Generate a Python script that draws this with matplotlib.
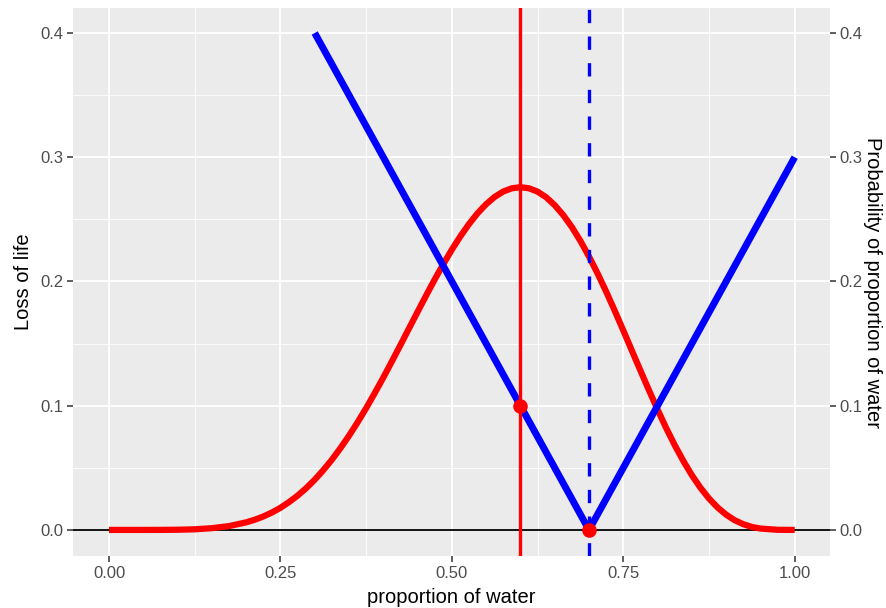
import matplotlib.pyplot as plt
from matplotlib.ticker import MultipleLocator

# probability of each proportion of water
p_grid = [0.0, 0.025, 0.05, 0.075, 0.1, 0.125, 0.15, 0.175,
          0.2, 0.2125, 0.225, 0.2375, 0.25, 0.2625, 0.275, 0.2875,
          0.3, 0.3125, 0.325, 0.3375, 0.35, 0.3625, 0.375, 0.3875,
          0.4, 0.4125, 0.425, 0.4375, 0.45, 0.4625, 0.475, 0.4875,
          0.5, 0.5125, 0.525, 0.5375, 0.55, 0.5625, 0.575, 0.5875,
          0.6, 0.6125, 0.625, 0.6375, 0.65, 0.6625, 0.675, 0.6875,
          0.7, 0.7125, 0.725, 0.7375, 0.75, 0.7625, 0.775, 0.7875,
          0.8, 0.8125, 0.825, 0.8375, 0.85, 0.8625, 0.875, 0.8875,
          0.9, 0.9125, 0.925, 0.9375, 0.95, 0.975, 1.0]
prob = [0.0, 0.0, 0.0, 0.00003, 0.00015, 0.0005, 0.0014, 0.0031,
        0.0061, 0.0082, 0.0108, 0.0140, 0.0178, 0.0224, 0.0276, 0.0336,
        0.0404, 0.0481, 0.0565, 0.0658, 0.0758, 0.0866, 0.0980, 0.1101,
        0.1226, 0.1356, 0.1488, 0.1622, 0.1755, 0.1887, 0.2016, 0.2139,
        0.2256, 0.2364, 0.2462, 0.2549, 0.2622, 0.2681, 0.2724, 0.2750,
        0.2759, 0.2750, 0.2723, 0.2678, 0.2614, 0.2534, 0.2438, 0.2326,
        0.2201, 0.2065, 0.1919, 0.1765, 0.1606, 0.1444, 0.1283, 0.1124,
        0.0969, 0.0821, 0.0683, 0.0556, 0.0441, 0.0340, 0.0253, 0.0181,
        0.0123, 0.0078, 0.0046, 0.0024, 0.0011, 0.0001, 0.0]

# loss function
loss_x = [0.3, 0.7, 1.0]
loss_y = [0.4, 0.0, 0.3]

mode_x = 0.6
true_x = 0.7
pts_x = [0.6, 0.7]
pts_y = [0.1, 0.0]

yticks = [0, 0.1, 0.2, 0.3, 0.4]
ytick_labels = ['0.0', '0.1', '0.2', '0.3', '0.4']
xticks = [0, 0.25, 0.5, 0.75, 1.0]
xtick_labels = ['0.00', '0.25', '0.50', '0.75', '1.00']

plt.rcParams['font.family'] = ['Liberation Sans', 'DejaVu Sans']

fig = plt.figure(figsize=(8.86, 6.08), dpi=100)
ax = fig.add_axes([0.0824, 0.0855, 0.8544, 0.9013])
ax.set_facecolor('#EBEBEB')
for s in ax.spines.values():
    s.set_visible(False)

ax.set_xlim(-0.0525, 1.0515)
ax.set_ylim(-0.021, 0.4201)
ax.xaxis.set_minor_locator(MultipleLocator(0.125))
ax.yaxis.set_minor_locator(MultipleLocator(0.05))
ax.set_xticks(xticks)
ax.set_xticklabels(xtick_labels)
ax.set_yticks(yticks)
ax.set_yticklabels(ytick_labels)
ax.grid(which='major', color='white', linewidth=1.3)
ax.grid(which='minor', color='white', linewidth=0.6)
ax.set_axisbelow(True)
ax.tick_params(which='minor', length=0)
ax.tick_params(which='major', length=4, width=1.1, color='#333333',
               labelcolor='#4D4D4D', labelsize=12, pad=3)

ax.axhline(0, color='black', linewidth=1.3, zorder=2)
ax.plot(p_grid, prob, color='red', linewidth=4.5, solid_capstyle='butt',
        solid_joinstyle='round', zorder=3)
ax.plot(loss_x, loss_y, color='blue', linewidth=5, solid_capstyle='butt', zorder=4)
ax.axvline(mode_x, color='red', linewidth=2.4, zorder=5)
ax.axvline(true_x, color='blue', linewidth=2.4, linestyle=(0, (4, 4)), zorder=5)
ax.scatter(pts_x, pts_y, s=110, color='red', zorder=6, linewidths=0)

ax.set_xlabel('proportion of water', fontsize=14.5, labelpad=5)
ax.set_ylabel('Loss of life', fontsize=14.5, labelpad=5)

ax2 = ax.twinx()
for s in ax2.spines.values():
    s.set_visible(False)
ax2.set_ylim(ax.get_ylim())
ax2.set_yticks(yticks)
ax2.set_yticklabels(ytick_labels)
ax2.tick_params(length=4, width=1.1, color='#333333',
                labelcolor='#4D4D4D', labelsize=12, pad=3)
ax2.set_ylabel('Probability of proportion of water', fontsize=14.5,
               rotation=270, labelpad=14)

fig.savefig('out.png', dpi=100)
